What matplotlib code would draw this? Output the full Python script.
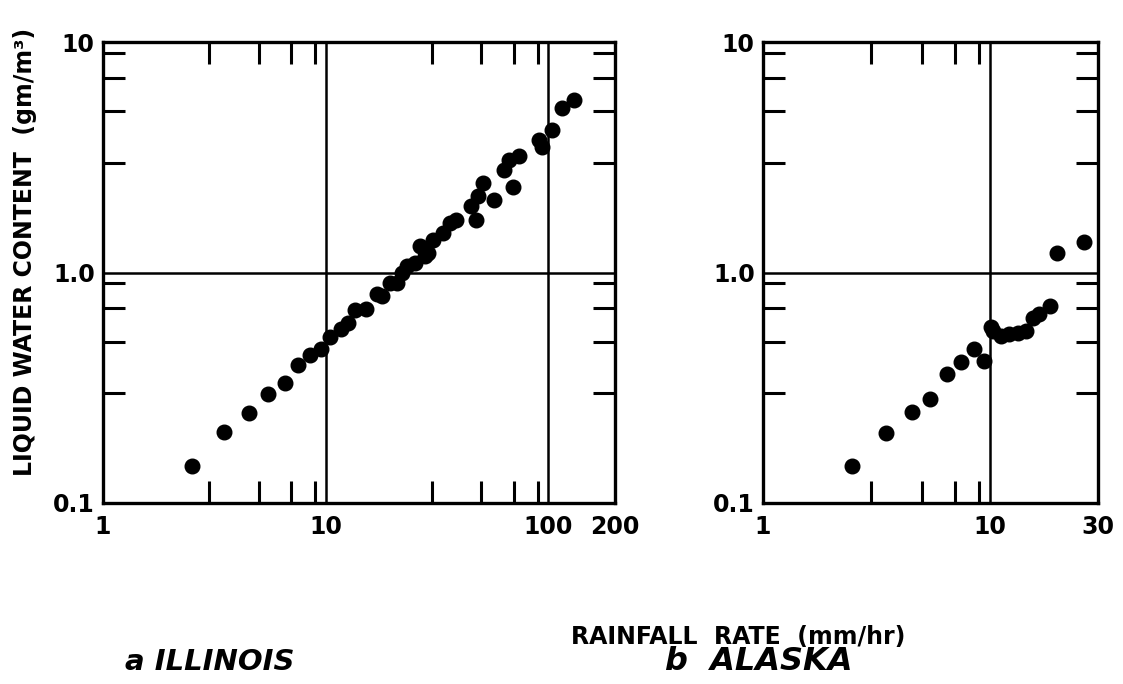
import matplotlib
matplotlib.use("Agg")
import matplotlib.pyplot as plt
from matplotlib.ticker import FixedLocator, NullFormatter

# rainfall rate (mm/hr) and liquid water content (gm/m^3)
ill_rate = [2.5, 3.5, 4.55, 5.5, 6.55, 7.5, 8.5, 9.5, 10.5, 11.7, 12.6, 13.6,
            15.2, 17.0, 17.9, 19.5, 21.0, 22.0, 23.2, 25.2, 26.5, 27.9, 28.9,
            30.5, 33.7, 36.1, 38.7, 45.1, 47.5, 48.3, 50.9, 57.4, 63.6, 66.9,
            69.3, 74.2, 91.2, 94.4, 104.5, 115.9, 130.6]
ill_lwc = [0.144, 0.204, 0.246, 0.298, 0.332, 0.397, 0.437, 0.464, 0.527,
           0.567, 0.606, 0.687, 0.697, 0.803, 0.789, 0.90, 0.90, 1.0, 1.065,
           1.10, 1.30, 1.18, 1.22, 1.39, 1.49, 1.64, 1.69, 1.94, 1.69, 2.14,
           2.44, 2.07, 2.79, 3.08, 2.36, 3.19, 3.76, 3.52, 4.16, 5.16, 5.61]

ak_rate = [2.48, 3.47, 4.52, 5.44, 6.5, 7.5, 8.53, 9.44, 10.1, 10.3, 11.2,
           12.2, 13.3, 14.4, 15.5, 16.5, 18.5, 19.8, 26.0]
ak_lwc = [0.145, 0.201, 0.249, 0.283, 0.364, 0.409, 0.467, 0.413, 0.58,
          0.557, 0.531, 0.539, 0.548, 0.557, 0.637, 0.659, 0.716, 1.21, 1.35]

ill_xticks = [1, 10, 100, 200]
ill_xlabels = ["1", "10", "100", "200"]
ak_xticks = [1, 10, 30]
ak_xlabels = ["1", "10", "30"]
yticks = [0.1, 1, 10]
ylabels = ["0.1", "1.0", "10"]
minor_x = [3, 5, 7, 9, 30, 50, 70, 90]
minor_y = [0.3, 0.5, 0.7, 0.9, 3, 5, 7, 9]

plt.rcParams["font.family"] = "DejaVu Sans"
plt.rcParams["font.weight"] = "bold"

fig = plt.figure(figsize=(11.23, 6.84), dpi=100)
W, H = 1123, 684
ax1 = fig.add_axes([103 / W, 1 - 503 / H, 512 / W, 461 / H])
ax2 = fig.add_axes([763 / W, 1 - 503 / H, 335 / W, 461 / H])


def style(ax, xmax, xticks, xlabels):
    ax.set_xscale("log")
    ax.set_yscale("log")
    ax.set_xlim(1, xmax)
    ax.set_ylim(0.1, 10)
    ax.xaxis.set_major_locator(FixedLocator(xticks))
    ax.set_xticklabels(xlabels)
    ax.yaxis.set_major_locator(FixedLocator(yticks))
    ax.set_yticklabels(ylabels)
    ax.xaxis.set_minor_locator(FixedLocator([m for m in minor_x if m < xmax]))
    ax.yaxis.set_minor_locator(FixedLocator(minor_y))
    ax.xaxis.set_minor_formatter(NullFormatter())
    ax.yaxis.set_minor_formatter(NullFormatter())
    ax.tick_params(axis="x", which="major", length=0, labelsize=17, pad=9)
    ax.tick_params(axis="y", which="major", length=0, labelsize=17, pad=6)
    ax.tick_params(which="minor", direction="in", length=16, width=2.2,
                   top=True, right=True, bottom=True, left=True)
    ax.grid(which="major", color="black", linewidth=1.8)
    for s in ax.spines.values():
        s.set_linewidth(2.4)


style(ax1, 200, ill_xticks, ill_xlabels)
style(ax2, 30, ak_xticks, ak_xlabels)

ax1.plot(ill_rate, ill_lwc, "o", color="black", markersize=10.5, zorder=3)
ax2.plot(ak_rate, ak_lwc, "o", color="black", markersize=10.5, zorder=3)

fig.text(25 / W, 1 - 252 / H, "LIQUID WATER CONTENT  (gm/m³)", rotation=90,
         ha="center", va="center", fontsize=17, fontweight="bold")
fig.text(738 / W, 1 - 637 / H, "RAINFALL  RATE  (mm/hr)", ha="center",
         va="center", fontsize=17, fontweight="bold")
fig.text(125 / W, 1 - 662 / H, "a ILLINOIS", ha="left", va="center",
         fontsize=21, style="italic", fontweight="bold")
fig.text(665 / W, 1 - 662 / H, "b  ALASKA", ha="left", va="center",
         fontsize=23, style="italic", fontweight="bold")

fig.savefig("out.png", dpi=100)
